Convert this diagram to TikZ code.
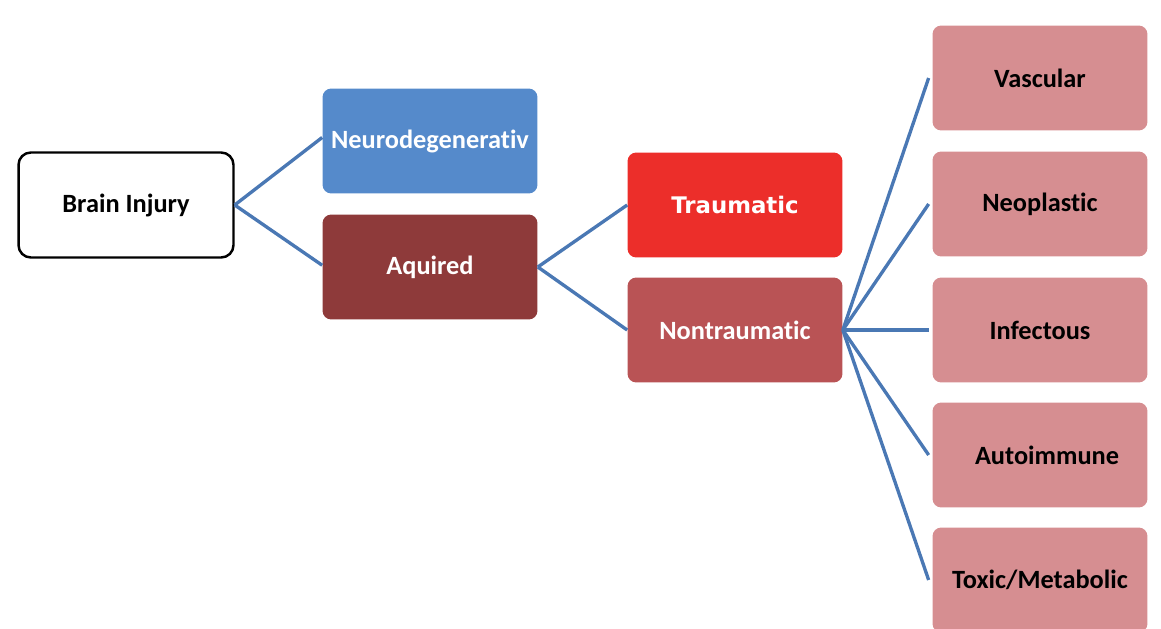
\documentclass[tikz,border=0pt]{standalone}
\usepackage{fontspec}
\setmainfont{Carlito}[Ligatures=NoCommon]
\newfontfamily\verd{DejaVu Sans}
\usepackage{tikz}

\definecolor{linkblue}{HTML}{4A78B4}
\definecolor{neuroblue}{HTML}{558ACB}
\definecolor{aqred}{HTML}{8E3A3A}
\definecolor{traured}{HTML}{EC2E2A}
\definecolor{nonred}{HTML}{B95355}
\definecolor{leafpink}{HTML}{D68E91}

\tikzset{
    box/.style={rectangle, rounded corners=5pt, minimum width=4.3cm, minimum height=2.1cm,
        inner sep=0pt, align=center, font=\fontsize{15}{18}\selectfont\bfseries},
    rootbox/.style={box, draw=black, line width=1.4pt, fill=white, rounded corners=7pt,
        minimum width=4.3cm, minimum height=2.1cm},
    leafbox/.style={box, fill=leafpink, text=black},
    link/.style={draw=linkblue, line width=1.9pt}
}

\begin{document}
\begin{tikzpicture}[x=0.02cm, y=-0.02cm]
\useasboundingbox (0,0) rectangle (1161,629);
\clip (0,0) rectangle (1161,629);

% first level
\node[rootbox] (brain) at (126,205) {Brain Injury};
\node[box, fill=neuroblue, text=white] (neuro) at (430,141) {Neurodegenerativ};
\node[box, fill=aqred, text=white] (aquired) at (430,267) {Aquired};

% second level
\node[box, fill=traured, text=white, font=\verd\fontsize{13}{16}\selectfont\bfseries] (trauma) at (735,205) {Traumatic};
\node[box, fill=nonred, text=white] (nontrauma) at (735,330) {Nontraumatic};

% causes
\node[leafbox] (vascular) at (1040,78) {Vascular};
\node[leafbox] (neoplastic) at (1040,204) {Neoplastic};
\node[leafbox] (infectous) at (1040,330) {Infectous};
\node[leafbox] (autoimmune) at (1040,455) {\hspace*{8pt}Autoimmune};
\node[leafbox] (toxic) at (1040,580) {Toxic/Metabolic};

\draw[link] (brain.east) -- ([yshift=2pt]neuro.west);
\draw[link] (brain.east) -- ([yshift=1pt]aquired.west);
\draw[link] (aquired.east) -- (trauma.west);
\draw[link] (aquired.east) -- (nontrauma.west);
\foreach \leaf in {vascular, neoplastic, infectous, autoimmune, toxic}
    \draw[link] (nontrauma.east) -- ([xshift=-2pt]\leaf.west);
\end{tikzpicture}
\end{document}
